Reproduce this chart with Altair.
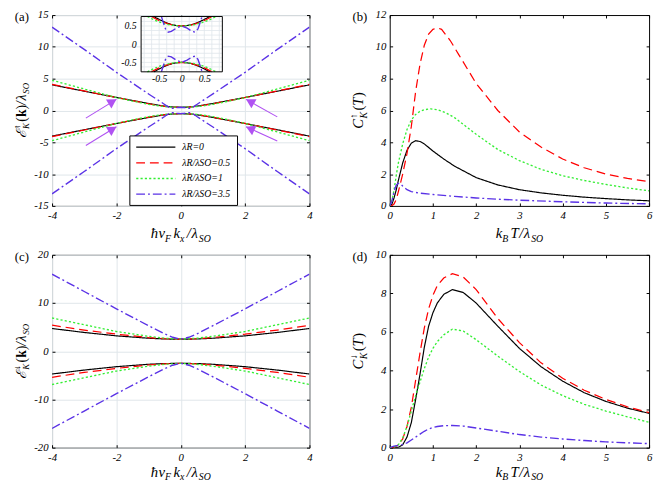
import math
import altair as alt
import pandas as pd

FONT = "Liberation Serif"
GRID = "#dfe5ea"
ARROW = "#b052f2"

SERIES = ["λR=0", "λR/λSO=0.5", "λR/λSO=1", "λR/λSO=3.5"]
COLORS = ["#000000", "#ff0000", "#33ee33", "#5a32e6"]
DASHES = [[1, 0], [9, 5], [2.2, 2.2], [9, 3, 2, 3]]
WIDTHS = [1.2, 1.4, 2.4, 1.2]

W0, W1 = 263, 265
H0, H1 = 195, 197

# ---------------- panel (a): spin-up bands ----------------
KA = [-4, -3, -2, -1.5, -1, -0.75, -0.5, -0.25, 0, 0.25, 0.5, 0.75, 1, 1.5, 2, 3, 4]
A_BLACK_UP = [4.03, 3.03, 2.05, 1.57, 1.1, 0.88, 0.68, 0.55, 0.5, 0.55, 0.68, 0.88, 1.1, 1.57, 2.05, 3.03, 4.03]
A_BLACK_DN = [-4.03, -3.03, -2.05, -1.57, -1.1, -0.88, -0.68, -0.55, -0.5, -0.55, -0.68, -0.88, -1.1, -1.57, -2.05, -3.03, -4.03]
A_RED_UP = [4.1, 3.07, 2.04, 1.54, 1.06, 0.84, 0.66, 0.54, 0.5, 0.54, 0.66, 0.84, 1.06, 1.54, 2.04, 3.07, 4.1]
A_RED_DN = [-4.1, -3.07, -2.04, -1.54, -1.06, -0.84, -0.66, -0.54, -0.5, -0.54, -0.66, -0.84, -1.06, -1.54, -2.04, -3.07, -4.1]
A_GREEN_UP = [4.75, 3.38, 2.03, 1.47, 0.97, 0.76, 0.61, 0.53, 0.5, 0.53, 0.61, 0.76, 0.97, 1.47, 2.03, 3.38, 4.75]
A_GREEN_DN = [-4.75, -3.38, -2.03, -1.47, -0.97, -0.76, -0.61, -0.53, -0.5, -0.53, -0.61, -0.76, -0.97, -1.47, -2.03, -3.38, -4.75]
KA_BLUE = [-4, -3, -2, -1, -0.5, -0.45, -0.4, -0.35, -0.3, -0.23, -0.12, 0, 0.12, 0.23, 0.3, 0.35, 0.4, 0.45, 0.5, 1, 2, 3, 4]
A_BLUE_UP = [13.1, 9.6, 6.0, 2.6, 0.95, 0.76, 0.6, 0.42, 0.33, 0.35, 0.44, 0.5, 0.44, 0.35, 0.33, 0.42, 0.6, 0.76, 0.95, 2.6, 6.0, 9.6, 13.1]
A_BLUE_DN = [-13.1, -9.6, -6.0, -2.6, -0.95, -0.76, -0.6, -0.42, -0.33, -0.35, -0.44, -0.5, -0.44, -0.35, -0.33, -0.42, -0.6, -0.76, -0.95, -2.6, -6.0, -9.6, -13.1]

# inset of panel (a)
IN_BLACK_X = [-0.62, -0.5, -0.4, -0.3, -0.2, -0.1, 0, 0.1, 0.2, 0.3, 0.4, 0.5, 0.62]
IN_BLACK_UP = [0.76, 0.68, 0.62, 0.57, 0.53, 0.51, 0.5, 0.51, 0.53, 0.57, 0.62, 0.68, 0.76]
IN_BLACK_DN = [-0.76, -0.68, -0.62, -0.57, -0.53, -0.51, -0.5, -0.51, -0.53, -0.57, -0.62, -0.68, -0.76]
IN_RED_X = [-0.67, -0.55, -0.45, -0.3, -0.15, 0, 0.15, 0.3, 0.45, 0.55, 0.67]
IN_RED_UP = [0.76, 0.68, 0.62, 0.56, 0.51, 0.5, 0.51, 0.56, 0.62, 0.68, 0.76]
IN_RED_DN = [-0.76, -0.68, -0.62, -0.56, -0.51, -0.5, -0.51, -0.56, -0.62, -0.68, -0.76]
IN_GREEN_X = [-0.76, -0.6, -0.45, -0.3, -0.15, 0, 0.15, 0.3, 0.45, 0.6, 0.76]
IN_GREEN_UP = [0.76, 0.66, 0.59, 0.54, 0.51, 0.5, 0.51, 0.54, 0.59, 0.66, 0.76]
IN_GREEN_DN = [-0.76, -0.66, -0.59, -0.54, -0.51, -0.5, -0.51, -0.54, -0.59, -0.66, -0.76]
IN_BLUE_X = [-0.45, -0.41, -0.36, -0.3, -0.23, -0.12, 0, 0.12, 0.23, 0.3, 0.36, 0.41, 0.45]
IN_BLUE_UP = [0.76, 0.6, 0.42, 0.33, 0.35, 0.44, 0.5, 0.44, 0.35, 0.33, 0.42, 0.6, 0.76]
IN_BLUE_DN = [-0.76, -0.6, -0.42, -0.33, -0.35, -0.44, -0.5, -0.44, -0.35, -0.33, -0.42, -0.6, -0.76]
IN_GRID_X = [-0.833, -0.667, -0.5, -0.333, -0.167, 0, 0.167, 0.333, 0.5, 0.667, 0.833]
IN_GRID_Y = [-0.625, -0.5, -0.375, -0.25, -0.125, 0, 0.125, 0.25, 0.375, 0.5, 0.625]
IN_TICKS = [-0.5, 0, 0.5]

# arrows in panel (a): tail -> head
ARR_X1 = [-2.95, -2.95, 3.0, 3.0]
ARR_Y1 = [-1.2, -5.5, -1.0, -4.8]
ARR_X2 = [-2.0, -2.0, 2.03, 2.03]
ARR_Y2 = [1.75, -2.55, 1.75, -2.55]

# ---------------- panel (b): C_K up ----------------
TB_BLACK = [0, 0.05, 0.1, 0.15, 0.2, 0.3, 0.4, 0.5, 0.6, 0.7, 0.8, 1.0, 1.25, 1.5, 2.0, 2.5, 3.0, 3.5, 4.0, 4.5, 5.0, 5.5, 6.0]
B_BLACK = [0, 0.1, 0.5, 1.0, 1.6, 2.7, 3.5, 3.95, 4.1, 4.05, 3.9, 3.45, 2.95, 2.5, 1.78, 1.32, 1.02, 0.82, 0.67, 0.55, 0.46, 0.38, 0.32]
TB_RED = [0, 0.05, 0.1, 0.15, 0.2, 0.3, 0.4, 0.5, 0.6, 0.7, 0.8, 0.9, 1.0, 1.1, 1.2, 1.4, 1.6, 1.8, 2.0, 2.5, 3.0, 3.5, 4.0, 4.5, 5.0, 5.5, 6.0]
B_RED = [0, 0.02, 0.12, 0.4, 0.9, 2.0, 3.3, 5.0, 7.2, 8.9, 10.1, 10.8, 11.1, 11.2, 11.1, 10.4, 9.5, 8.6, 7.7, 6.0, 4.65, 3.7, 2.95, 2.4, 2.0, 1.73, 1.52]
TB_GREEN = [0, 0.05, 0.1, 0.15, 0.2, 0.3, 0.4, 0.5, 0.6, 0.7, 0.8, 0.95, 1.1, 1.3, 1.5, 2.0, 2.5, 3.0, 3.5, 4.0, 4.5, 5.0, 5.5, 6.0]
B_GREEN = [0, 0.3, 1.0, 1.9, 2.7, 3.9, 4.8, 5.4, 5.75, 5.95, 6.05, 6.1, 6.05, 5.85, 5.55, 4.5, 3.55, 2.85, 2.3, 1.9, 1.6, 1.35, 1.13, 0.95]
TB_BLUE = [0, 0.05, 0.1, 0.15, 0.2, 0.25, 0.3, 0.4, 0.5, 0.7, 1.0, 1.5, 2.0, 2.5, 3.0, 4.0, 5.0, 6.0]
B_BLUE = [0, 0.3, 0.9, 1.3, 1.42, 1.38, 1.25, 1.02, 0.9, 0.8, 0.72, 0.6, 0.5, 0.42, 0.36, 0.26, 0.18, 0.13]

# ---------------- panel (c): spin-down bands ----------------
KC = [-4, -3, -2, -1, -0.5, 0, 0.5, 1, 2, 3, 4]
C_BLACK_UP = [4.72, 3.9, 3.2, 2.7, 2.55, 2.5, 2.55, 2.7, 3.2, 3.9, 4.72]
C_BLACK_DN = [-4.72, -3.9, -3.2, -2.7, -2.55, -2.5, -2.55, -2.7, -3.2, -3.9, -4.72]
C_RED_UP = [5.4, 4.4, 3.55, 2.85, 2.6, 2.5, 2.6, 2.85, 3.55, 4.4, 5.4]
C_RED_DN = [-5.4, -4.4, -3.55, -2.85, -2.6, -2.5, -2.6, -2.85, -3.55, -4.4, -5.4]
C_GREEN_UP = [6.9, 5.5, 4.1, 3.1, 2.7, 2.5, 2.7, 3.1, 4.1, 5.5, 6.9]
C_GREEN_DN = [-6.9, -5.5, -4.1, -3.1, -2.7, -2.5, -2.7, -3.1, -4.1, -5.5, -6.9]
KC_BLUE = [-4, -3, -2, -1, -0.5, -0.25, 0, 0.25, 0.5, 1, 2, 3, 4]
C_BLUE_UP = [16.0, 12.4, 8.8, 5.3, 3.6, 2.9, 2.5, 2.9, 3.6, 5.3, 8.8, 12.4, 16.0]
C_BLUE_DN = [-16.0, -12.4, -8.8, -5.3, -3.6, -2.9, -2.5, -2.9, -3.6, -5.3, -8.8, -12.4, -16.0]

# ---------------- panel (d): C_K down ----------------
TD = [0, 0.1, 0.2, 0.3, 0.4, 0.5, 0.6, 0.7, 0.8, 0.9, 1.0, 1.1, 1.25, 1.45, 1.7, 2.0, 2.5, 3.0, 3.5, 4.0, 4.5, 5.0, 5.5, 6.0]
D_BLACK = [0, 0, 0.02, 0.15, 0.55, 1.3, 2.5, 3.8, 5.2, 6.3, 7.0, 7.5, 7.95, 8.2, 8.05, 7.5, 6.3, 5.15, 4.2, 3.45, 2.85, 2.4, 2.05, 1.78]
D_RED = [0, 0.02, 0.15, 0.45, 1.1, 2.1, 3.5, 4.9, 6.2, 7.2, 7.9, 8.4, 8.8, 9.02, 8.85, 8.2, 6.7, 5.45, 4.4, 3.6, 2.98, 2.5, 2.12, 1.82]
D_GREEN = [0, 0.03, 0.15, 0.5, 1.1, 1.9, 2.7, 3.4, 4.1, 4.7, 5.15, 5.5, 5.85, 6.15, 6.05, 5.6, 4.75, 3.95, 3.25, 2.7, 2.25, 1.9, 1.6, 1.32]
D_BLUE = [0, 0.08, 0.12, 0.16, 0.25, 0.4, 0.55, 0.7, 0.85, 0.97, 1.05, 1.1, 1.14, 1.15, 1.12, 1.02, 0.85, 0.68, 0.55, 0.45, 0.37, 0.3, 0.25, 0.21]

# axis ticks
XT_K = [-4, -2, 0, 2, 4]
XT_T = [0, 1, 2, 3, 4, 5, 6]
YT_A = [-15, -10, -5, 0, 5, 10, 15]
YT_B = [0, 2, 4, 6, 8, 10, 12]
YT_C = [-20, -10, 0, 10, 20]
YT_D = [0, 2, 4, 6, 8, 10]


def long_df(items):
    rows = []
    for name, branch, xs, ys in items:
        for x, y in zip(xs, ys):
            rows.append({"x": x, "y": y, "s": name, "g": name + branch})
    return pd.DataFrame(rows)


LBL = dict(labelFont=FONT, labelFontStyle="italic", labelColor="black",
           labelFlush=False, labelOverlap=False, labelExpr="toString(datum.value)")


def main_axis(orient, values, grid):
    return alt.Axis(orient=orient, values=values, ticks=False, domain=False, grid=grid,
                    gridColor=GRID, gridWidth=1, gridOpacity=1, labelPadding=4,
                    labelFontSize=11, title=None, **LBL)


def tick_axis(orient, values, offset):
    return alt.Axis(orient=orient, offset=offset, values=values, labels=False, domain=False,
                    grid=False, ticks=True, tickSize=3, tickColor="black", tickWidth=1, title=None)


def lines_chart(df, xs, ys, xaxis, yaxis, legend):
    return alt.Chart(df).mark_line(clip=True).encode(
        x=alt.X("x:Q", scale=xs, axis=xaxis),
        y=alt.Y("y:Q", scale=ys, axis=yaxis),
        color=alt.Color("s:N", scale=alt.Scale(domain=SERIES, range=COLORS), legend=legend),
        strokeDash=alt.StrokeDash("s:N", scale=alt.Scale(domain=SERIES, range=DASHES), legend=legend),
        strokeWidth=alt.StrokeWidth("s:N", scale=alt.Scale(domain=SERIES, range=WIDTHS), legend=legend),
        detail="g:N",
    )


EM = {"ħ": 0.5, "v": 0.444, "k": 0.444, "x": 0.444, "F": 0.611, "B": 0.611, "T": 0.556,
      "S": 0.5, "O": 0.722, "K": 0.667, "C": 0.667, "/": 0.278, "(": 0.333, ")": 0.333,
      "λ": 0.5, "ℰ": 0.62, "↑": 0.5, "↓": 0.5}


def pw(t, fs, st):
    if st == "bd":
        return 0.556 * fs * len(t)
    return sum(EM.get(c, 0.5) for c in t) * fs


def build_title(pieces, cx, cy, vertical):
    total = sum(pw(t, fs, st) + gap for (t, fs, st, dy, adv, gap) in pieces if adv)
    rows, cum = [], 0.0
    for (t, fs, st, dy, adv, gap) in pieces:
        if vertical:
            rows.append(dict(t=t, fs=fs, st=st, px=cx + dy, py=cy + total / 2 - cum, ang=270))
        else:
            rows.append(dict(t=t, fs=fs, st=st, px=cx - total / 2 + cum, py=cy + dy, ang=0))
        if adv:
            cum += pw(t, fs, st) + gap
    return rows


def xtitle_k():
    return [("ħ", 15, "it", 0, True, 0.5), ("v", 15, "it", 0, True, 0), ("F", 10, "it", 3.5, True, 2.5),
            ("k", 15, "it", 0, True, 0), ("x", 10, "it", 3.5, True, 2.5), ("/", 15, "it", 0, True, 0.5),
            ("λ", 15, "it", 0, True, 0), ("SO", 10, "it", 3.5, True, 0)]


def xtitle_t():
    return [("k", 15, "it", 0, True, 0), ("B", 10, "it", 3.5, True, 2.5), ("T", 15, "it", 0, True, 0.5),
            ("/", 15, "it", 0, True, 0.5), ("λ", 15, "it", 0, True, 0), ("SO", 10, "it", 3.5, True, 0)]


def ytitle_e(arrow):
    return [("ℰ", 14, "it", 0, True, 0.5), (arrow, 9, "up", -6, False, 0), ("K", 9, "it", 3, True, 1.5),
            ("(", 14, "up", 0, True, 0), ("k", 14, "bd", 0, True, 0), (")", 14, "up", 0, True, 0),
            ("/", 14, "it", 0, True, 0.5), ("λ", 14, "it", 0, True, 0), ("SO", 9, "it", 3, True, 0)]


def ytitle_c(arrow):
    return [("C", 15, "it", 0, True, 0.5), (arrow, 10, "up", -6.5, False, 0), ("K", 10, "it", 3.5, True, 1.5),
            ("(", 15, "up", 0, True, 0), ("T", 15, "it", 0, True, 0.5), (")", 15, "up", 0, True, 0)]


def text_layers(rows):
    df = pd.DataFrame(rows)
    out = []
    for st, style, weight in [("it", "italic", "normal"), ("up", "normal", "normal"), ("bd", "normal", "bold")]:
        sub = df[df["st"] == st]
        if len(sub) == 0:
            continue
        out.append(alt.Chart(sub).mark_text(align="left", baseline="alphabetic", font=FONT,
                                            fontStyle=style, fontWeight=weight, color="black").encode(
            x=alt.X("px:Q", scale=None, axis=None),
            y=alt.Y("py:Q", scale=None, axis=None),
            text="t:N",
            size=alt.Size("fs:Q", scale=None, legend=None),
            angle=alt.Angle("ang:Q", scale=None),
        ))
    return out


def panel(df, xdom, ydom, xvals, yvals, W, H, grid, label, xt, yt, xt_dy, legend=None, extra=()):
    xs = alt.Scale(domain=xdom, nice=False, zero=False)
    ys = alt.Scale(domain=ydom, nice=False, zero=False)
    lines = lines_chart(df, xs, ys, main_axis("bottom", xvals, grid), main_axis("left", yvals, grid), legend)
    dummy = pd.DataFrame({"x": [xdom[0]], "y": [ydom[0]]})
    t1 = alt.Chart(dummy).mark_point(opacity=0).encode(
        x=alt.X("x:Q", scale=xs, axis=tick_axis("top", xvals, -H)),
        y=alt.Y("y:Q", scale=ys, axis=tick_axis("right", yvals, -W)))
    t2 = alt.Chart(dummy).mark_point(opacity=0).encode(
        x=alt.X("x:Q", scale=xs, axis=tick_axis("bottom", xvals, -H)),
        y=alt.Y("y:Q", scale=ys, axis=tick_axis("left", yvals, -W)))
    rows = [dict(t=label, fs=13, st="up", px=-38, py=6, ang=0)]
    rows += build_title(xt, W / 2, H + xt_dy, False)
    rows += build_title(yt, -27, H / 2, True)
    layers = [lines, t1, t2] + list(extra) + text_layers(rows)
    return alt.layer(*layers).resolve_scale(
        x="independent", y="independent", color="independent",
        strokeDash="independent", strokeWidth="independent").properties(width=W, height=H)


# ---- panel (a) ----
df_a = long_df([
    (SERIES[0], "u", KA, A_BLACK_UP), (SERIES[0], "d", KA, A_BLACK_DN),
    (SERIES[1], "u", KA, A_RED_UP), (SERIES[1], "d", KA, A_RED_DN),
    (SERIES[2], "u", KA, A_GREEN_UP), (SERIES[2], "d", KA, A_GREEN_DN),
    (SERIES[3], "u", KA_BLUE, A_BLUE_UP), (SERIES[3], "d", KA_BLUE, A_BLUE_DN),
])
df_in = long_df([
    (SERIES[0], "u", IN_BLACK_X, IN_BLACK_UP), (SERIES[0], "d", IN_BLACK_X, IN_BLACK_DN),
    (SERIES[1], "u", IN_RED_X, IN_RED_UP), (SERIES[1], "d", IN_RED_X, IN_RED_DN),
    (SERIES[2], "u", IN_GREEN_X, IN_GREEN_UP), (SERIES[2], "d", IN_GREEN_X, IN_GREEN_DN),
    (SERIES[3], "u", IN_BLUE_X, IN_BLUE_UP), (SERIES[3], "d", IN_BLUE_X, IN_BLUE_DN),
])

xs_a = alt.Scale(domain=[-4, 4], nice=False, zero=False)
ys_a = alt.Scale(domain=[-15, 15], nice=False, zero=False)

# arrows
sx, sy = W0 / 8.0, H0 / 30.0
arr_rows = []
for x1, y1, x2, y2 in zip(ARR_X1, ARR_Y1, ARR_X2, ARR_Y2):
    dxp, dyp = (x2 - x1) * sx, -(y2 - y1) * sy
    L = math.hypot(dxp, dyp)
    ux, uy = dxp / L, dyp / L
    ang = math.degrees(math.atan2(ux, -uy)) % 360
    arr_rows.append(dict(x1=x1, y1=y1, x2=x2, y2=y2,
                         hx=x2 - 4.6 * ux / sx, hy=y2 + 4.6 * uy / sy, ang=ang))
arr_df = pd.DataFrame(arr_rows)
arrow_shaft = alt.Chart(arr_df).mark_rule(color=ARROW, strokeWidth=1.1).encode(
    x=alt.X("x1:Q", scale=xs_a, axis=None), y=alt.Y("y1:Q", scale=ys_a, axis=None),
    x2="x2:Q", y2="y2:Q")
arrow_head = alt.Chart(arr_df).mark_point(shape="triangle-up", filled=True, size=115,
                                          color=ARROW, opacity=1, strokeWidth=0).encode(
    x=alt.X("hx:Q", scale=xs_a, axis=None), y=alt.Y("hy:Q", scale=ys_a, axis=None),
    angle=alt.Angle("ang:Q", scale=None))

# inset
IX0, IX1, IY0, IY1 = 91, 174, 1.5, 58
in_xs = alt.Scale(domain=[-0.9, 0.9], range=[IX0, IX1], nice=False, zero=False)
in_ys = alt.Scale(domain=[-0.76, 0.76], range=[IY1, IY0], nice=False, zero=False)
box = pd.DataFrame({"x": [-0.9], "x2": [0.9], "y": [-0.76], "y2": [0.76]})
in_bg = alt.Chart(box).mark_rect(fill="white", strokeWidth=0).encode(
    x=alt.X("x:Q", scale=in_xs,
            axis=alt.Axis(orient="bottom", offset=-(H0 - IY1), values=IN_TICKS, ticks=False,
                          domain=False, grid=False, labelPadding=2, labelFontSize=10, title=None, **LBL)),
    x2="x2:Q",
    y=alt.Y("y:Q", scale=in_ys,
            axis=alt.Axis(orient="left", offset=-IX0, values=IN_TICKS, ticks=False,
                          domain=False, grid=False, labelPadding=5, labelFontSize=10, title=None, **LBL)),
    y2="y2:Q")
gv = pd.DataFrame({"gx": IN_GRID_X, "ya": [-0.76] * len(IN_GRID_X), "yb": [0.76] * len(IN_GRID_X)})
gh = pd.DataFrame({"gy": IN_GRID_Y, "xa": [-0.9] * len(IN_GRID_Y), "xb": [0.9] * len(IN_GRID_Y)})
in_gv = alt.Chart(gv).mark_rule(color=GRID, strokeWidth=0.8).encode(
    x=alt.X("gx:Q", scale=in_xs, axis=None), y=alt.Y("ya:Q", scale=in_ys, axis=None), y2="yb:Q")
in_gh = alt.Chart(gh).mark_rule(color=GRID, strokeWidth=0.8).encode(
    y=alt.Y("gy:Q", scale=in_ys, axis=None), x=alt.X("xa:Q", scale=in_xs, axis=None), x2="xb:Q")
in_lines = lines_chart(df_in, in_xs, in_ys, None, None, None)
in_frame = alt.Chart(box).mark_rect(fill=None, filled=False, stroke="black", strokeWidth=1).encode(
    x=alt.X("x:Q", scale=in_xs, axis=None), x2="x2:Q",
    y=alt.Y("y:Q", scale=in_ys, axis=None), y2="y2:Q")

# legend: custom stroke symbol 40px long, rows ~15px apart
legend_a = alt.Legend(title=None, orient="none", legendX=79, legendY=H0 - 72,
                      symbolType="M-1,0L7,0", symbolSize=100,
                      labelFont=FONT, labelFontSize=10, labelFontStyle="italic",
                      labelColor="black", fillColor="white", strokeColor="black", padding=6,
                      rowPadding=5, labelOffset=36)

pa = panel(df_a, [-4, 4], [-15, 15], XT_K, YT_A, W0, H0, True, "(a)", xtitle_k(), ytitle_e("↑"), 33,
           legend=legend_a,
           extra=[arrow_shaft, arrow_head, in_bg, in_gv, in_gh, in_lines, in_frame])

# ---- panel (b) ----
df_b = long_df([
    (SERIES[0], "", TB_BLACK, B_BLACK), (SERIES[1], "", TB_RED, B_RED),
    (SERIES[2], "", TB_GREEN, B_GREEN), (SERIES[3], "", TB_BLUE, B_BLUE),
])
pb = panel(df_b, [0, 6], [0, 12], XT_T, YT_B, W1, H0, False, "(b)", xtitle_t(), ytitle_c("↑"), 33)

# ---- panel (c) ----
df_c = long_df([
    (SERIES[0], "u", KC, C_BLACK_UP), (SERIES[0], "d", KC, C_BLACK_DN),
    (SERIES[1], "u", KC, C_RED_UP), (SERIES[1], "d", KC, C_RED_DN),
    (SERIES[2], "u", KC, C_GREEN_UP), (SERIES[2], "d", KC, C_GREEN_DN),
    (SERIES[3], "u", KC_BLUE, C_BLUE_UP), (SERIES[3], "d", KC_BLUE, C_BLUE_DN),
])
pc = panel(df_c, [-4, 4], [-20, 20], XT_K, YT_C, W0, H1, True, "(c)", xtitle_k(), ytitle_e("↓"), 29.5)

# ---- panel (d) ----
df_d = long_df([
    (SERIES[0], "", TD, D_BLACK), (SERIES[1], "", TD, D_RED),
    (SERIES[2], "", TD, D_GREEN), (SERIES[3], "", TD, D_BLUE),
])
pd_ = panel(df_d, [0, 6], [0, 10], XT_T, YT_D, W1, H1, False, "(d)", xtitle_t(), ytitle_c("↓"), 29.5)

chart = alt.concat(pa, pb, pc, pd_, columns=2, spacing={"row": 50, "column": 82},
                   bounds="flush", align="each").resolve_scale(
    color="independent", strokeDash="independent", strokeWidth="independent"
).properties(
    padding={"left": 4, "top": -5, "right": 0, "bottom": 0}
).configure_view(stroke="black", strokeWidth=1)

chart.save("out.html", embed_options={"renderer": "svg", "actions": False})
